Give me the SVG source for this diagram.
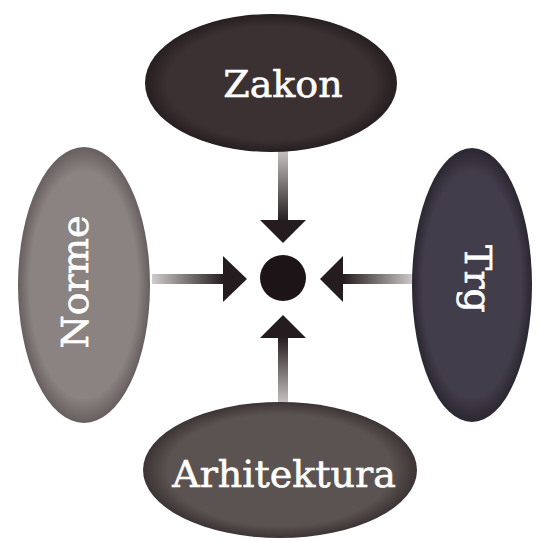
<svg xmlns="http://www.w3.org/2000/svg" width="539" height="541" viewBox="0 0 539 541">
<defs>
<radialGradient id="gZakon" cx="0.5" cy="0.5" r="0.5"><stop offset="0.82" stop-color="#3b3133"/><stop offset="1" stop-color="#261e20"/></radialGradient>
<radialGradient id="gNorme" cx="0.5" cy="0.5" r="0.5"><stop offset="0.82" stop-color="#8b8381"/><stop offset="1" stop-color="#675f5d"/></radialGradient>
<radialGradient id="gTrg" cx="0.5" cy="0.5" r="0.5"><stop offset="0.82" stop-color="#423d4a"/><stop offset="1" stop-color="#2b2731"/></radialGradient>
<radialGradient id="gArh" cx="0.5" cy="0.5" r="0.5"><stop offset="0.82" stop-color="#5b5351"/><stop offset="1" stop-color="#3c3432"/></radialGradient>
<linearGradient id="sTop" x1="0" y1="150" x2="0" y2="222" gradientUnits="userSpaceOnUse"><stop offset="0" stop-color="#c8c4c4"/><stop offset="1" stop-color="#241c1e"/></linearGradient>
<linearGradient id="sLeft" x1="152" y1="0" x2="224" y2="0" gradientUnits="userSpaceOnUse"><stop offset="0" stop-color="#d0cccc"/><stop offset="1" stop-color="#241c1e"/></linearGradient>
<linearGradient id="sRight" x1="414" y1="0" x2="343" y2="0" gradientUnits="userSpaceOnUse"><stop offset="0" stop-color="#d0cccc"/><stop offset="1" stop-color="#241c1e"/></linearGradient>
<linearGradient id="sBot" x1="0" y1="404" x2="0" y2="337" gradientUnits="userSpaceOnUse"><stop offset="0" stop-color="#c8c4c4"/><stop offset="1" stop-color="#241c1e"/></linearGradient>
</defs>
<style>
.lbl{font-family:"DejaVu Serif","Liberation Serif",serif;font-size:38px;fill:#ffffff;text-anchor:middle;stroke:#ffffff;stroke-width:0.6}
.head{fill:#241c1e}
</style>
<rect width="539" height="541" fill="#ffffff"/>
<g id="connectors">
<rect x="278" y="150" width="10" height="72" fill="url(#sTop)"/>
<polygon class="head" points="260,220 306,220 283,243"/>
<rect x="152" y="274" width="72" height="10" fill="url(#sLeft)"/>
<polygon class="head" points="223,256 223,302 247,279"/>
<rect x="342" y="274" width="72" height="10" fill="url(#sRight)"/>
<polygon class="head" points="343,256 343,302 320,279"/>
<rect x="278" y="337" width="10" height="67" fill="url(#sBot)"/>
<polygon class="head" points="260,338 306,338 283,315"/>
</g>
<g id="center"><circle cx="283" cy="278" r="23" fill="#1c1416"/></g>
<g id="zakon">
<ellipse cx="271" cy="83" rx="126" ry="69" fill="url(#gZakon)"/>
<text class="lbl" x="283" y="97">Zakon</text>
</g>
<g id="norme">
<ellipse cx="84" cy="285" rx="66" ry="138" fill="url(#gNorme)"/>
<text class="lbl" transform="translate(88,282) rotate(-90)" x="0" y="0">Norme</text>
</g>
<g id="trg">
<ellipse cx="472" cy="285" rx="60" ry="137" fill="url(#gTrg)"/>
<text class="lbl" transform="translate(465,279) rotate(90)" x="0" y="0">Trg</text>
</g>
<g id="arhitektura">
<ellipse cx="280" cy="470" rx="137" ry="68" fill="url(#gArh)"/>
<text class="lbl" x="284" y="487">Arhitektura</text>
</g>
</svg>
